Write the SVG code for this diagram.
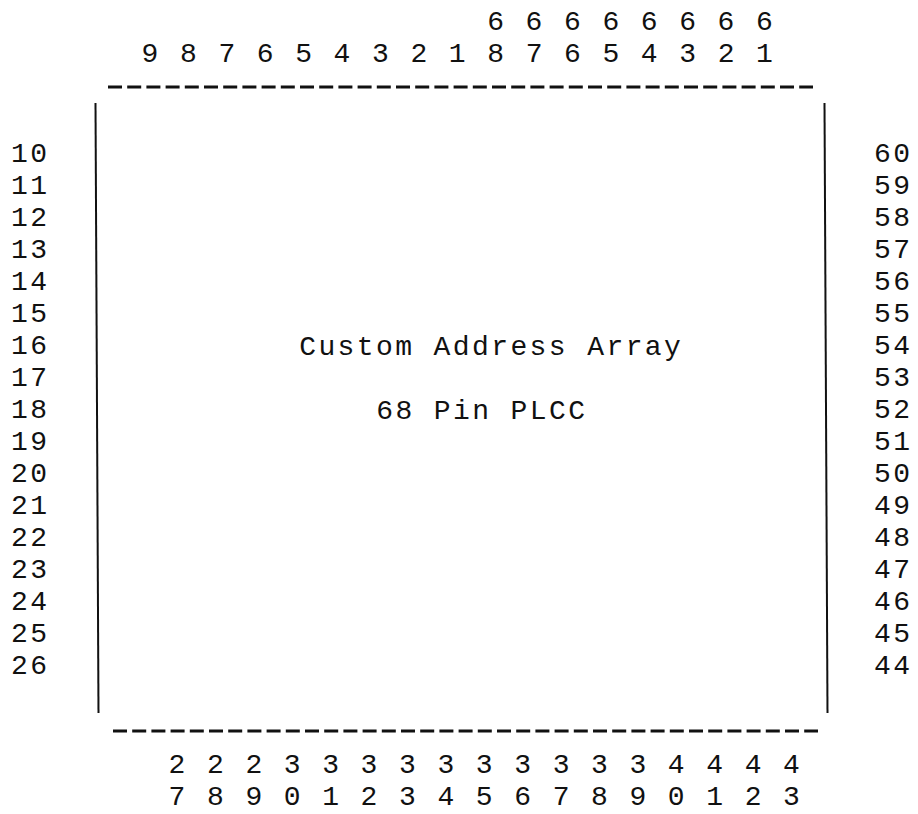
<svg xmlns="http://www.w3.org/2000/svg" width="918" height="814" viewBox="0 0 918 814">
<style>
text{font-family:"Liberation Mono","DejaVu Sans Mono",monospace;font-size:28px;letter-spacing:2.4px;fill:#111;}
.dash{stroke:#111;stroke-width:3;stroke-dasharray:14 5.2;fill:none;}
.edge{stroke:#111;stroke-width:2;fill:none;}
</style>
<rect width="918" height="814" fill="#fff"/>
<g id="chip">
  <g id="chip-outline">
    <line class="dash" x1="108" y1="87" x2="813" y2="87"/>
    <line class="dash" x1="113" y1="731" x2="818" y2="731"/>
    <line class="edge" x1="95.5" y1="103" x2="98.5" y2="713"/>
    <line class="edge" x1="824.5" y1="103" x2="827.5" y2="713"/>
  </g>
  <g id="chip-title">
    <text x="299.2" y="355">Custom Address Array</text>
    <text x="376.2" y="419">68 Pin PLCC</text>
  </g>
</g>
<g id="pins-top">
  <text x="487.2" y="30" xml:space="preserve">6 6 6 6 6 6 6 6</text>
  <text x="141.6" y="62" xml:space="preserve">9 8 7 6 5 4 3 2 1 8 7 6 5 4 3 2 1</text>
</g>
<g id="pins-bottom">
  <text x="168.6" y="773" xml:space="preserve">2 2 2 3 3 3 3 3 3 3 3 3 3 4 4 4 4</text>
  <text x="168.6" y="805" xml:space="preserve">7 8 9 0 1 2 3 4 5 6 7 8 9 0 1 2 3</text>
</g>
<g id="pins-left">
  <text x="11" y="162">10</text>
  <text x="11" y="194">11</text>
  <text x="11" y="226">12</text>
  <text x="11" y="258">13</text>
  <text x="11" y="290">14</text>
  <text x="11" y="322">15</text>
  <text x="11" y="354">16</text>
  <text x="11" y="386">17</text>
  <text x="11" y="418">18</text>
  <text x="11" y="450">19</text>
  <text x="11" y="482">20</text>
  <text x="11" y="514">21</text>
  <text x="11" y="546">22</text>
  <text x="11" y="578">23</text>
  <text x="11" y="610">24</text>
  <text x="11" y="642">25</text>
  <text x="11" y="674">26</text>
</g>
<g id="pins-right">
  <text x="874" y="162">60</text>
  <text x="874" y="194">59</text>
  <text x="874" y="226">58</text>
  <text x="874" y="258">57</text>
  <text x="874" y="290">56</text>
  <text x="874" y="322">55</text>
  <text x="874" y="354">54</text>
  <text x="874" y="386">53</text>
  <text x="874" y="418">52</text>
  <text x="874" y="450">51</text>
  <text x="874" y="482">50</text>
  <text x="874" y="514">49</text>
  <text x="874" y="546">48</text>
  <text x="874" y="578">47</text>
  <text x="874" y="610">46</text>
  <text x="874" y="642">45</text>
  <text x="874" y="674">44</text>
</g>
</svg>
